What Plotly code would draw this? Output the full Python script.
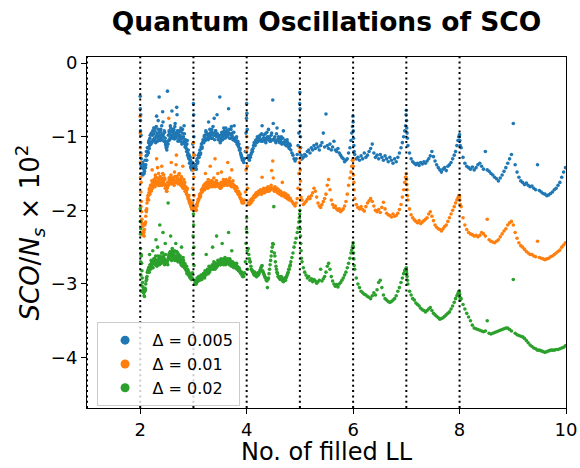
import plotly.graph_objects as go

# ---------------- data ----------------
# filling factor nu, grouped by Landau-level interval
nu_seg2 = [
    2.000, 2.002, 2.004, 2.006, 2.008, 2.010, 2.012, 2.014, 2.016, 2.018,
    2.020, 2.032, 2.044, 2.056, 2.068, 2.080, 2.092, 2.104, 2.116, 2.128,
    2.140, 2.152, 2.164, 2.176, 2.188, 2.200, 2.212, 2.224, 2.236, 2.248,
    2.260, 2.272, 2.284, 2.296, 2.308, 2.320, 2.332, 2.344, 2.356, 2.368,
    2.380, 2.392, 2.404, 2.416, 2.428, 2.440, 2.452, 2.464, 2.476, 2.488,
    2.500, 2.512, 2.524, 2.536, 2.548, 2.560, 2.572, 2.584, 2.596, 2.608,
    2.620, 2.632, 2.644, 2.656, 2.668, 2.680, 2.692, 2.704, 2.716, 2.728,
    2.740, 2.752, 2.764, 2.776, 2.788, 2.800, 2.812, 2.824, 2.836, 2.848,
    2.860, 2.872, 2.884, 2.896, 2.908, 2.920, 2.932, 2.944, 2.956, 2.968,
]
d0005_seg2 = [
    -0.45, -0.62, -0.78, -0.92, -1.08, -0.70, -1.22, -1.38, -0.98, -1.50,
    -1.30, -1.42, -1.35, -1.50, -1.44, -1.47, -1.32, -1.38, -1.20, -1.25,
    -1.15, -1.22, -1.05, -1.12, -0.98, -1.10, -0.95, -1.06, -0.92, -1.04,
    -0.96, -1.05, -0.88, -1.00, -0.72, -0.95, -1.03, -0.90, -0.46, -0.98,
    -0.93, -1.02, -0.85, -0.97, -0.80, -1.00, -0.92, -1.06, -1.10, -1.15,
    -1.18, -0.38, -1.10, -1.05, -0.95, -1.02, -0.88, -0.98, -0.65, -0.94,
    -0.97, -0.90, -1.03, -0.82, -0.95, -1.00, -0.70, -0.96, -1.04, -0.92,
    -0.98, -1.06, -0.88, -1.02, -0.95, -1.08, -1.00, -0.85, -1.10, -1.08,
    -1.12, -1.20, -1.05, -1.22, -1.28, -1.25, -1.35, -1.32, -1.40, -1.44,
]
d001_seg2 = [
    -0.72, -0.95, -1.15, -1.35, -1.55, -1.25, -1.75, -1.95, -2.15, -1.62,
    -1.88, -2.12, -2.22, -2.34, -2.30, -2.26, -2.18, -2.08, -2.02, -1.90,
    -1.84, -1.80, -1.76, -1.70, -1.74, -1.66, -1.72, -1.45, -1.64, -1.68,
    -1.58, -1.65, -1.52, -1.62, -1.30, -1.56, -1.63, -1.50, -1.60, -1.66,
    -1.55, -1.62, -1.40, -1.58, -1.60, -1.52, -1.64, -1.58, -1.68, -1.70,
    -1.74, -1.68, -1.62, -0.75, -1.58, -1.55, -1.62, -1.35, -1.58, -1.60,
    -1.56, -1.62, -1.48, -1.60, -1.54, -1.25, -1.58, -1.63, -1.52, -1.60,
    -1.62, -1.58, -1.66, -1.55, -1.68, -1.40, -1.65, -1.70, -1.62, -1.72,
    -1.74, -1.78, -1.70, -1.82, -1.85, -1.88, -1.86, -1.92, -1.95, -1.98,
]
d002_seg2 = [
    -1.98, -2.15, -2.32, -2.52, -2.70, -2.25, -2.88, -3.02, -2.60, -3.10,
    -2.62, -2.82, -2.98, -3.08, -3.12, -3.17, -3.06, -3.00, -2.92, -2.90,
    -2.84, -2.80, -2.78, -2.60, -2.76, -2.74, -2.70, -2.78, -2.55, -2.72,
    -2.70, -2.65, -2.72, -2.40, -2.68, -2.74, -2.62, -2.70, -2.66, -2.20,
    -2.64, -2.70, -2.58, -2.68, -2.30, -2.62, -2.66, -2.72, -2.60, -2.68,
    -2.72, -2.68, -1.90, -2.62, -2.58, -2.64, -2.35, -2.60, -2.56, -2.62,
    -2.60, -2.66, -2.55, -2.64, -2.45, -2.62, -2.68, -2.58, -2.64, -2.66,
    -2.68, -2.62, -2.72, -2.50, -2.70, -2.74, -2.68, -2.76, -2.72, -2.78,
    -2.80, -2.76, -2.84, -2.82, -2.88, -2.86, -2.90, -2.88, -2.92, -2.94,
]

nu_seg2b = [
    2.026, 2.038, 2.050, 2.062, 2.074, 2.086, 2.098, 2.110, 2.122, 2.134,
    2.146, 2.158, 2.170, 2.182, 2.194, 2.206, 2.218, 2.230, 2.242, 2.254,
    2.266, 2.278, 2.290, 2.302, 2.314, 2.326, 2.338, 2.350, 2.362, 2.374,
    2.386, 2.398, 2.410, 2.422, 2.434, 2.446, 2.458, 2.470, 2.482, 2.494,
    2.506, 2.518, 2.530, 2.542, 2.554, 2.566, 2.578, 2.590, 2.602, 2.614,
    2.626, 2.638, 2.650, 2.662, 2.674, 2.686, 2.698, 2.710, 2.722, 2.734,
    2.746, 2.758, 2.770, 2.782, 2.794, 2.806, 2.818, 2.830, 2.842, 2.854,
    2.866, 2.878, 2.890, 2.902, 2.914, 2.926, 2.938, 2.950, 2.962, 2.974,
]
d0005_seg2b = [
    -1.40, -1.36, -1.52, -1.40, -1.50, -1.38, -1.42, -1.26, -1.32, -1.15,
    -1.20, -1.08, -1.16, -1.02, -1.10, -0.96, -1.08, -0.98, -1.05, -0.88,
    -1.02, -0.92, -1.08, -0.86, -0.98, -1.06, -0.78, -1.00, -0.94, -1.05,
    -0.90, -0.98, -1.04, -0.66, -0.96, -1.06, -0.94, -1.02, -1.12, -1.08,
    -1.14, -1.06, -0.98, -0.92, -1.04, -0.85, -1.00, -0.92, -1.02, -0.90,
    -1.00, -0.94, -0.86, -1.02, -0.98, -0.60, -0.92, -1.06, -0.94, -1.00,
    -1.04, -0.92, -1.00, -1.10, -0.90, -1.02, -1.06, -0.96, -1.14, -1.04,
    -1.16, -1.10, -1.25, -1.18, -1.30, -1.36, -1.28, -1.42, -1.38, -1.45,
]
d001_seg2b = [
    -2.02, -2.18, -2.30, -2.28, -2.35, -2.20, -2.16, -2.00, -1.98, -1.86,
    -1.80, -1.86, -1.72, -1.78, -1.66, -1.74, -1.60, -1.70, -1.62, -1.66,
    -1.60, -1.68, -1.55, -1.64, -1.60, -1.42, -1.66, -1.58, -1.64, -1.54,
    -1.62, -1.56, -1.66, -1.50, -1.60, -1.64, -1.56, -1.70, -1.66, -1.74,
    -1.70, -1.62, -1.66, -1.56, -1.64, -1.60, -1.52, -1.64, -1.56, -1.62,
    -1.58, -1.66, -1.54, -1.62, -1.38, -1.60, -1.56, -1.64, -1.58, -1.50,
    -1.64, -1.60, -1.54, -1.66, -1.62, -1.70, -1.58, -1.66, -1.74, -1.68,
    -1.76, -1.72, -1.80, -1.84, -1.80, -1.90, -1.88, -1.94, -1.92, -1.98,
]
d002_seg2b = [
    -2.72, -2.92, -3.04, -3.12, -3.16, -3.10, -3.08, -2.96, -2.94, -2.84,
    -2.82, -2.78, -2.84, -2.74, -2.80, -2.68, -2.76, -2.72, -2.78, -2.66,
    -2.68, -2.74, -2.62, -2.70, -2.76, -2.50, -2.72, -2.66, -2.74, -2.62,
    -2.66, -2.72, -2.64, -2.58, -2.70, -2.66, -2.74, -2.45, -2.68, -2.72,
    -2.70, -2.74, -2.64, -2.60, -2.66, -2.56, -2.62, -2.68, -2.52, -2.64,
    -2.64, -2.58, -2.68, -2.62, -2.66, -2.56, -2.62, -2.70, -2.60, -2.64,
    -2.70, -2.66, -2.74, -2.70, -2.76, -2.64, -2.72, -2.78, -2.74, -2.80,
    -2.82, -2.86, -2.80, -2.86, -2.84, -2.90, -2.92, -2.88, -2.94, -2.92,
]

nu_seg3 = [
    2.976, 2.982, 2.988, 2.994, 3.000, 3.004, 3.008, 3.012, 3.018, 3.024,
    3.030, 3.045, 3.060, 3.075, 3.090, 3.105, 3.120, 3.135, 3.150, 3.165,
    3.180, 3.195, 3.210, 3.225, 3.240, 3.255, 3.270, 3.285, 3.300, 3.315,
    3.330, 3.345, 3.360, 3.375, 3.390, 3.405, 3.420, 3.435, 3.450, 3.465,
    3.480, 3.495, 3.510, 3.525, 3.540, 3.555, 3.570, 3.585, 3.600, 3.615,
    3.630, 3.645, 3.660, 3.675, 3.690, 3.705, 3.720, 3.735, 3.750, 3.765,
    3.780, 3.795, 3.810, 3.825, 3.840, 3.855, 3.870, 3.885, 3.900, 3.915,
]
d0005_seg3 = [
    -1.42, -1.35, -1.10, -0.85, -0.55, -0.70, -1.00, -1.25, -1.40, -1.44,
    -1.42, -1.40, -1.33, -1.36, -1.25, -1.28, -1.18, -1.22, -1.10, -1.14,
    -1.04, -1.08, -0.98, -1.05, -0.94, -1.02, -0.98, -0.80, -1.00, -0.95,
    -0.98, -0.90, -1.02, -0.95, -0.75, -0.98, -0.92, -1.00, -0.96, -1.04,
    -1.00, -0.46, -1.06, -1.02, -0.95, -1.00, -0.88, -0.97, -0.94, -1.00,
    -0.92, -0.98, -0.62, -0.96, -1.02, -0.90, -0.98, -0.95, -1.04, -0.85,
    -1.02, -1.06, -1.00, -1.08, -1.12, -1.10, -1.18, -1.22, -1.26, -1.30,
]
d001_seg3 = [
    -1.98, -1.90, -1.70, -1.45, -1.08, -1.25, -1.55, -1.80, -1.96, -2.00,
    -2.00, -1.98, -1.92, -1.90, -1.85, -1.84, -1.78, -1.80, -1.72, -1.75,
    -1.70, -1.66, -1.72, -1.50, -1.68, -1.64, -1.70, -1.62, -1.66, -1.40,
    -1.64, -1.60, -1.68, -1.62, -1.66, -1.30, -1.63, -1.60, -1.67, -1.64,
    -1.68, -1.65, -1.70, -1.48, -1.66, -1.62, -1.64, -1.60, -1.65, -1.58,
    -1.62, -1.35, -1.64, -1.60, -1.66, -1.63, -1.45, -1.65, -1.68, -1.66,
    -1.70, -1.72, -1.68, -1.75, -1.78, -1.76, -1.82, -1.84, -1.86, -1.90,
]
d002_seg3 = [
    -2.92, -2.85, -2.60, -2.35, -2.05, -2.20, -2.50, -2.75, -2.95, -3.00,
    -3.00, -2.96, -2.98, -2.94, -2.96, -2.92, -2.95, -2.90, -2.93, -2.88,
    -2.90, -2.86, -2.92, -2.84, -2.60, -2.86, -2.82, -2.80, -2.84, -2.78,
    -2.80, -2.76, -2.50, -2.78, -2.74, -2.80, -2.72, -2.35, -2.76, -2.74,
    -2.72, -2.68, -2.74, -2.70, -2.45, -2.72, -2.66, -2.70, -2.74, -2.68,
    -2.70, -2.66, -2.30, -2.72, -2.68, -2.74, -2.55, -2.70, -2.73, -2.76,
    -2.74, -2.78, -2.72, -2.76, -2.80, -2.78, -2.82, -2.84, -2.86, -2.88,
]

nu_seg3b = [
    3.038, 3.053, 3.068, 3.083, 3.098, 3.113, 3.128, 3.143, 3.158, 3.173,
    3.188, 3.203, 3.218, 3.233, 3.248, 3.263, 3.278, 3.293, 3.308, 3.323,
    3.338, 3.353, 3.368, 3.383, 3.398, 3.413, 3.428, 3.443, 3.458, 3.473,
    3.488, 3.503, 3.518, 3.533, 3.548, 3.563, 3.578, 3.593, 3.608, 3.623,
    3.638, 3.653, 3.668, 3.683, 3.698, 3.713, 3.728, 3.743, 3.758, 3.773,
    3.788, 3.803, 3.818, 3.833, 3.848, 3.863, 3.878, 3.893, 3.908, 3.923,
]
d0005_seg3b = [
    -1.38, -1.44, -1.30, -1.34, -1.28, -1.22, -1.24, -1.14, -1.16, -1.08,
    -1.06, -1.00, -1.04, -0.92, -1.02, -0.96, -1.04, -0.98, -0.90, -1.02,
    -0.94, -1.02, -0.86, -0.98, -1.04, -0.92, -0.96, -0.70, -1.00, -0.98,
    -1.04, -1.08, -0.98, -0.94, -1.04, -0.96, -0.92, -1.02, -0.88, -0.96,
    -1.00, -0.94, -0.90, -1.02, -0.96, -0.86, -1.00, -1.04, -0.94, -1.02,
    -1.06, -1.02, -1.10, -1.06, -1.14, -1.18, -1.16, -1.24, -1.28, -1.32,
]
d001_seg3b = [
    -1.98, -2.00, -1.94, -1.88, -1.86, -1.80, -1.82, -1.76, -1.74, -1.70,
    -1.68, -1.72, -1.64, -1.70, -1.62, -1.68, -1.58, -1.66, -1.62, -1.68,
    -1.60, -1.66, -1.62, -1.56, -1.64, -1.68, -1.60, -1.64, -1.50, -1.66,
    -1.66, -1.70, -1.62, -1.68, -1.64, -1.58, -1.66, -1.62, -1.60, -1.64,
    -1.66, -1.60, -1.64, -1.56, -1.62, -1.68, -1.64, -1.60, -1.66, -1.70,
    -1.68, -1.74, -1.70, -1.76, -1.74, -1.80, -1.78, -1.84, -1.88, -1.88,
]
d002_seg3b = [
    -2.98, -3.00, -2.92, -2.96, -2.90, -2.94, -2.92, -2.88, -2.94, -2.90,
    -2.86, -2.90, -2.82, -2.88, -2.84, -2.80, -2.86, -2.76, -2.82, -2.80,
    -2.78, -2.74, -2.80, -2.70, -2.76, -2.72, -2.78, -2.74, -2.68, -2.72,
    -2.70, -2.74, -2.66, -2.72, -2.68, -2.74, -2.70, -2.64, -2.72, -2.70,
    -2.68, -2.72, -2.74, -2.66, -2.70, -2.76, -2.72, -2.74, -2.78, -2.72,
    -2.76, -2.74, -2.80, -2.78, -2.82, -2.80, -2.84, -2.86, -2.84, -2.90,
]

nu_seg4 = [
    3.930, 3.945, 3.960, 3.975, 3.988, 3.996, 4.000, 4.004, 4.010, 4.018,
    4.030, 4.050, 4.070, 4.090, 4.110, 4.130, 4.150, 4.170, 4.190, 4.210,
    4.230, 4.250, 4.270, 4.290, 4.310, 4.330, 4.350, 4.370, 4.390, 4.410,
    4.430, 4.450, 4.470, 4.490, 4.510, 4.530, 4.550, 4.570, 4.590, 4.610,
    4.630, 4.650, 4.670, 4.690, 4.710, 4.730, 4.750, 4.770, 4.790, 4.810,
    4.830, 4.850, 4.870, 4.890, 4.910, 4.930, 4.950, 4.965, 4.980, 4.990,
]
d0005_seg4 = [
    -1.32, -1.35, -1.30, -1.20, -0.95, -0.75, -0.55, -0.68, -0.90, -1.15,
    -1.26, -1.32, -1.28, -1.22, -1.20, -1.12, -1.10, -1.05, -1.08, -1.02,
    -1.04, -0.98, -1.06, -0.85, -1.02, -1.05, -0.96, -1.04, -1.00, -0.90,
    -1.02, -1.06, -0.95, -0.50, -1.04, -1.00, -1.08, -0.88, -1.05, -1.02,
    -1.06, -1.00, -1.08, -0.92, -1.10, -1.05, -1.12, -1.08, -1.14, -1.10,
    -1.18, -1.22, -1.25, -1.30, -1.33, -1.30, -1.24, -1.12, -0.95, -0.78,
]
d001_seg4 = [
    -1.88, -1.90, -1.86, -1.75, -1.45, -1.20, -1.00, -1.15, -1.40, -1.70,
    -1.90, -1.92, -1.86, -1.88, -1.84, -1.82, -1.80, -1.78, -1.80, -1.76,
    -1.78, -1.74, -1.76, -1.55, -1.75, -1.72, -1.74, -1.70, -1.74, -1.72,
    -1.70, -1.72, -1.46, -1.33, -1.72, -1.68, -1.74, -1.70, -1.76, -1.74,
    -1.76, -1.78, -1.62, -1.80, -1.78, -1.82, -1.80, -1.84, -1.82, -1.84,
    -1.86, -1.88, -1.90, -1.92, -1.94, -1.90, -1.84, -1.70, -1.50, -1.35,
]
d002_seg4 = [
    -2.88, -2.90, -2.85, -2.70, -2.45, -2.25, -2.10, -2.30, -2.55, -2.80,
    -2.52, -2.66, -2.70, -2.80, -2.82, -2.86, -2.84, -2.88, -2.90, -2.85,
    -2.86, -2.82, -2.78, -2.75, -2.84, -2.88, -2.92, -2.95, -3.05, -2.92,
    -2.80, -2.68, -2.56, -2.45, -1.95, -2.62, -2.76, -2.84, -2.90, -2.92,
    -2.94, -2.90, -2.95, -2.97, -2.92, -2.95, -2.90, -2.86, -2.80, -2.76,
    -2.70, -2.64, -2.58, -2.50, -2.44, -2.38, -2.30, -2.24, -2.16, -2.10,
]

nu_seg4b = [
    4.040, 4.060, 4.080, 4.100, 4.120, 4.140, 4.160, 4.180, 4.200, 4.220,
    4.240, 4.260, 4.280, 4.300, 4.320, 4.340, 4.360, 4.380, 4.400, 4.420,
    4.440, 4.460, 4.480, 4.500, 4.520, 4.540, 4.560, 4.580, 4.600, 4.620,
    4.640, 4.660, 4.680, 4.700, 4.720, 4.740, 4.760, 4.780, 4.800, 4.820,
]
d0005_seg4b = [
    -1.30, -1.26, -1.24, -1.18, -1.16, -1.08, -1.12, -1.04, -1.00, -1.06,
    -1.00, -1.04, -0.96, -1.06, -0.98, -1.02, -1.08, -0.94, -1.04, -1.00,
    -1.06, -0.98, -1.04, -0.82, -1.02, -1.06, -0.96, -1.04, -1.00, -1.08,
    -1.04, -1.10, -1.02, -1.08, -1.06, -1.12, -1.04, -1.10, -1.16, -1.12,
]
d001_seg4b = [
    -1.92, -1.88, -1.90, -1.84, -1.86, -1.80, -1.82, -1.76, -1.78, -1.74,
    -1.76, -1.72, -1.78, -1.74, -1.70, -1.76, -1.72, -1.74, -1.68, -1.74,
    -1.72, -1.66, -1.70, -1.56, -1.74, -1.70, -1.72, -1.76, -1.72, -1.78,
    -1.74, -1.80, -1.78, -1.76, -1.82, -1.78, -1.84, -1.80, -1.86, -1.84,
]
d002_seg4b = [
    -2.60, -2.70, -2.76, -2.82, -2.84, -2.88, -2.86, -2.90, -2.86, -2.88,
    -2.84, -2.80, -2.76, -2.82, -2.86, -2.90, -2.92, -2.96, -2.94, -2.86,
    -2.74, -2.62, -2.50, -2.46, -2.58, -2.70, -2.80, -2.86, -2.90, -2.92,
    -2.92, -2.94, -2.96, -2.93, -2.95, -2.92, -2.88, -2.84, -2.80, -2.74,
]

nu_seg5 = [
    4.996, 5.000, 5.004, 5.008, 5.012, 5.016, 5.022, 5.028,
    5.040, 5.065, 5.090, 5.115, 5.140, 5.165, 5.190, 5.215, 5.240, 5.265,
    5.290, 5.315, 5.340, 5.365, 5.390, 5.415, 5.440, 5.465, 5.490, 5.515,
    5.540, 5.565, 5.590, 5.615, 5.640, 5.665, 5.690, 5.715, 5.740, 5.765,
    5.790, 5.815, 5.840, 5.865, 5.890, 5.915, 5.940, 5.960, 5.975, 5.988,
]
d0005_seg5 = [
    -0.55, -0.40, -0.62, -0.85, -1.00, -1.15, -1.25, -1.30,
    -1.30, -1.28, -1.24, -1.26, -1.20, -1.18, -1.22, -1.15, -1.18, -1.12,
    -1.16, -1.10, -1.14, -1.18, -1.12, -1.08, -0.95, -1.14, -0.69, -1.12,
    -1.16, -1.10, -1.18, -1.14, -1.06, -1.18, -1.20, -1.16, -1.22, -1.25,
    -1.28, -1.30, -1.34, -1.32, -1.30, -1.22, -1.15, -1.05, -0.95, -0.86,
]
d001_seg5 = [
    -1.20, -1.15, -1.30, -1.45, -1.60, -1.72, -1.82, -1.86,
    -1.86, -1.92, -1.90, -1.88, -1.85, -1.82, -1.84, -1.80, -1.76, -1.70,
    -1.74, -1.82, -1.90, -1.94, -1.96, -1.92, -1.88, -1.84, -1.78, -1.66,
    -1.58, -1.72, -1.86, -1.92, -1.96, -1.94, -1.98, -2.00, -1.98, -2.02,
    -2.00, -1.98, -1.94, -1.88, -1.78, -1.66, -1.56, -1.48, -1.40, -1.32,
]
d002_seg5 = [
    -2.05, -2.00, -2.15, -2.25, -2.35, -2.45, -2.55, -2.65,
    -2.70, -2.78, -2.84, -2.88, -2.92, -2.90, -2.95, -2.93, -2.97, -2.94,
    -2.96, -2.99, -2.97, -2.95, -2.80, -2.96, -2.93, -2.90, -2.84, -2.76,
    -2.72, -2.80, -2.90, -2.96, -3.00, -3.03, -3.01, -3.04, -3.00, -2.98,
    -2.95, -2.92, -2.88, -2.84, -2.78, -2.72, -2.65, -2.58, -2.54, -2.50,
]

nu_seg6 = [
    5.996, 6.000, 6.004, 6.008, 6.014, 6.020,
    6.030, 6.060, 6.090, 6.120, 6.150, 6.180, 6.210, 6.240, 6.270, 6.300,
    6.330, 6.360, 6.390, 6.420, 6.450, 6.480, 6.510, 6.540, 6.570, 6.600,
    6.630, 6.660, 6.690, 6.720, 6.750, 6.780, 6.810, 6.840, 6.870, 6.900,
    6.925, 6.950, 6.970, 6.985,
]
d0005_seg6 = [
    -0.72, -0.80, -0.92, -1.02, -1.12, -1.20,
    -1.24, -1.30, -1.28, -1.32, -1.26, -1.30, -1.22, -1.28, -1.25, -1.20,
    -1.16, -1.10, -1.22, -1.28, -1.25, -1.30, -1.24, -1.28, -1.32, -1.26,
    -1.30, -1.34, -1.28, -1.32, -1.36, -1.30, -1.34, -1.28, -1.22, -1.15,
    -1.08, -1.00, -0.92, -0.85,
]
d001_seg6 = [
    -1.32, -1.30, -1.40, -1.52, -1.62, -1.72,
    -1.84, -1.92, -1.96, -1.98, -1.95, -1.99, -2.01, -1.95, -1.90, -1.87,
    -1.84, -1.88, -1.94, -2.00, -2.02, -1.99, -2.03, -1.96, -1.89, -1.98,
    -2.04, -2.06, -2.07, -2.09, -2.05, -2.08, -2.07, -2.04, -1.99, -1.92,
    -1.82, -1.72, -1.62, -1.55,
]
d002_seg6 = [
    -2.48, -2.44, -2.50, -2.58, -2.66, -2.75,
    -2.80, -2.92, -3.00, -3.05, -3.10, -3.12, -3.14, -3.15, -3.17, -3.18,
    -3.20, -3.16, -3.12, -3.15, -3.08, -2.98, -2.95, -3.05, -3.15, -3.20,
    -3.22, -3.24, -3.25, -3.24, -3.22, -3.20, -3.16, -3.10, -3.05, -2.98,
    -2.92, -2.86, -2.82, -2.80,
]

nu_seg7 = [
    6.995, 7.000, 7.004, 7.008, 7.014, 7.020,
    7.030, 7.060, 7.090, 7.120, 7.150, 7.180, 7.210, 7.240, 7.270, 7.300,
    7.330, 7.360, 7.390, 7.420, 7.450, 7.480, 7.510, 7.540, 7.570, 7.600,
    7.630, 7.660, 7.690, 7.720, 7.750, 7.780, 7.810, 7.840, 7.870, 7.900,
    7.925, 7.950, 7.970, 7.985,
]
d0005_seg7 = [
    -0.70, -0.64, -0.78, -0.88, -0.95, -1.02,
    -1.12, -1.22, -1.30, -1.34, -1.36, -1.38, -1.36, -1.39, -1.35, -1.37,
    -1.34, -1.36, -1.33, -1.30, -1.26, -1.20, -1.27, -1.33, -1.38, -1.42,
    -1.45, -1.48, -1.44, -1.42, -1.46, -1.40, -1.38, -1.35, -1.30, -1.25,
    -1.20, -1.12, -1.05, -1.00,
]
d001_seg7 = [
    -1.55, -1.50, -1.58, -1.65, -1.72, -1.80,
    -1.86, -1.98, -2.06, -2.10, -2.13, -2.15, -2.17, -2.14, -2.18, -2.16,
    -2.14, -2.12, -2.10, -2.05, -2.02, -2.08, -2.14, -2.20, -2.23, -2.25,
    -2.26, -2.28, -2.25, -2.22, -2.20, -2.15, -2.10, -2.05, -2.00, -1.95,
    -1.90, -1.86, -1.83, -1.80,
]
d002_seg7 = [
    -2.80, -2.78, -2.82, -2.86, -2.90, -2.95,
    -3.00, -3.10, -3.15, -3.20, -3.22, -3.26, -3.28, -3.30, -3.33, -3.35,
    -3.36, -3.38, -3.36, -3.34, -3.32, -3.36, -3.40, -3.42, -3.44, -3.46,
    -3.48, -3.47, -3.46, -3.44, -3.42, -3.40, -3.38, -3.34, -3.30, -3.25,
    -3.20, -3.16, -3.13, -3.10,
]

nu_seg8 = [
    7.996, 8.000, 8.006, 8.012,
    8.030, 8.065, 8.100, 8.135, 8.170, 8.205, 8.240, 8.275, 8.310, 8.345,
    8.380, 8.415, 8.450, 8.485, 8.520, 8.555, 8.590, 8.625, 8.660, 8.695,
    8.730, 8.765, 8.800, 8.835, 8.870, 8.905, 8.940, 8.975, 9.010, 9.045,
    9.080, 9.115, 9.150, 9.185, 9.220, 9.255, 9.290, 9.325, 9.360, 9.395,
    9.430, 9.465, 9.500, 9.535, 9.570, 9.605, 9.640, 9.675, 9.710, 9.745,
    9.780, 9.815, 9.850, 9.885, 9.920, 9.955, 9.990,
]
d0005_seg8 = [
    -1.00, -0.97, -1.05, -1.12,
    -1.15, -1.28, -1.36, -1.40, -1.42, -1.44, -1.41, -1.45, -1.42, -1.38,
    -1.36, -1.40, -1.44, -1.20, -1.45, -1.47, -1.50, -1.52, -1.55, -1.57,
    -1.60, -1.56, -1.52, -1.47, -1.42, -1.36, -1.30, -1.24, -0.82, -1.38,
    -1.48, -1.55, -1.60, -1.62, -1.65, -1.63, -1.66, -1.68, -1.67, -1.70,
    -1.72, -1.38, -1.73, -1.75, -1.77, -1.78, -1.80, -1.79, -1.77, -1.75,
    -1.72, -1.70, -1.66, -1.62, -1.55, -1.48, -1.42,
]
d001_seg8 = [
    -1.82, -1.80, -1.86, -1.92,
    -1.95, -2.10, -2.20, -2.26, -2.30, -2.32, -2.33, -2.35, -2.34, -2.36,
    -2.34, -2.30, -2.32, -2.35, -2.12, -2.40, -2.42, -2.43, -2.44, -2.42,
    -2.40, -2.36, -2.32, -2.28, -2.25, -2.20, -2.17, -2.15, -2.20, -2.30,
    -2.38, -2.44, -2.48, -2.50, -2.53, -2.56, -2.58, -2.60, -2.60, -2.62,
    -2.63, -2.42, -2.64, -2.65, -2.66, -2.67, -2.66, -2.65, -2.63, -2.62,
    -2.60, -2.58, -2.56, -2.54, -2.50, -2.47, -2.44,
]
d002_seg8 = [
    -3.12, -3.14, -3.18, -3.22,
    -3.20, -3.28, -3.34, -3.40, -3.45, -3.50, -3.56, -3.60, -3.61, -3.62,
    -3.63, -3.64, -3.65, -3.64, -3.50, -3.67, -3.68, -3.67, -3.66, -3.65,
    -3.64, -3.63, -3.62, -3.61, -3.60, -3.60, -3.62, -3.64, -2.94, -3.67,
    -3.69, -3.70, -3.71, -3.72, -3.74, -3.77, -3.80, -3.83, -3.85, -3.87,
    -3.88, -3.90, -3.90, -3.91, -3.92, -3.93, -3.92, -3.91, -3.90, -3.90,
    -3.90, -3.89, -3.89, -3.88, -3.87, -3.86, -3.84,
]

filled_ll_lines = [1, 2, 3, 4, 5, 6, 7, 8]
x_ticks = [2, 4, 6, 8, 10]
y_ticks = [0, -1, -2, -3, -4]
legend_names = ["Δ = 0.005", "Δ = 0.01", "Δ = 0.02"]
colors = ["#1f77b4", "#ff7f0e", "#2ca02c"]

nu_segments = [nu_seg2, nu_seg2b, nu_seg3, nu_seg3b, nu_seg4, nu_seg4b,
               nu_seg5, nu_seg6, nu_seg7, nu_seg8]
series_segments = [
    [d0005_seg2, d0005_seg2b, d0005_seg3, d0005_seg3b, d0005_seg4, d0005_seg4b,
     d0005_seg5, d0005_seg6, d0005_seg7, d0005_seg8],
    [d001_seg2, d001_seg2b, d001_seg3, d001_seg3b, d001_seg4, d001_seg4b,
     d001_seg5, d001_seg6, d001_seg7, d001_seg8],
    [d002_seg2, d002_seg2b, d002_seg3, d002_seg3b, d002_seg4, d002_seg4b,
     d002_seg5, d002_seg6, d002_seg7, d002_seg8],
]


def join(xsegs, ysegs):
    xs, ys = [], []
    for xa, ya in zip(xsegs, ysegs):
        n = min(len(xa), len(ya))
        xs += xa[:n]
        ys += ya[:n]
    return xs, ys


FONT = "DejaVu Sans"
fig = go.Figure()

for name, col, segs in zip(legend_names, colors, series_segments):
    xs, ys = join(nu_segments, segs)
    fig.add_trace(go.Scatter(
        x=xs, y=ys, mode="markers", showlegend=False,
        marker=dict(size=3.6, color=col, line=dict(width=0)),
    ))

# legend handles
for name, col in zip(legend_names, colors):
    fig.add_trace(go.Scatter(
        x=[None], y=[None], mode="markers", name=name,
        marker=dict(size=9, color=col),
    ))

for v in filled_ll_lines:
    fig.add_shape(type="line", xref="x", yref="y domain", x0=v, x1=v, y0=0, y1=1,
                  line=dict(color="black", width=2, dash="2px,3.3px"), layer="above")

W, H = 580, 468
L, R, T, B = 87, 14, 57, 60
fig.update_layout(
    width=W, height=H,
    margin=dict(l=L, r=R, t=T, b=B, autoexpand=False),
    paper_bgcolor="white", plot_bgcolor="white",
    font=dict(family=FONT, color="black"),
    title=dict(text="Quantum Oscillations of SCO", x=(L + (W - R)) / 2 / W, xanchor="center",
               y=1 - 22 / H, yanchor="middle", yref="container",
               font=dict(family=FONT, size=26.5, color="black", weight="bold")),
    xaxis=dict(range=[1, 10], tickvals=x_ticks, ticks="outside", ticklen=5, tickwidth=1,
               tickcolor="black", showline=True, linecolor="black", linewidth=1, mirror=True,
               showgrid=False, zeroline=False, automargin=False,
               tickfont=dict(size=18, family=FONT)),
    yaxis=dict(range=[-4.686, 0.084], tickvals=y_ticks, ticks="outside", ticklen=5, tickwidth=1,
               tickcolor="black", showline=True, linecolor="black", linewidth=1, mirror=True,
               showgrid=False, zeroline=False, automargin=False,
               tickfont=dict(size=18, family=FONT)),
    legend=dict(x=0.02, y=0.005, xanchor="left", yanchor="bottom",
                bgcolor="rgba(255,255,255,0.8)", bordercolor="#cccccc", borderwidth=1,
                font=dict(size=16, family=FONT), itemwidth=45, tracegroupgap=0),
    showlegend=True,
)

fig.add_annotation(text="No. of filled LL", xref="paper", yref="paper",
                   x=0.5, y=-(452 - (H - B)) / (H - T - B), xanchor="center", yanchor="middle",
                   showarrow=False, font=dict(size=24, family=FONT))
fig.add_annotation(text="<i>SCO</i>/<i>N<sub>s</sub></i> × 10<sup>2</sup>", xref="paper", yref="paper",
                   x=(30 - L) / (W - L - R), y=0.5, xanchor="center", yanchor="middle",
                   textangle=-90, showarrow=False, font=dict(size=26, family=FONT))

fig.write_html("out.html")
